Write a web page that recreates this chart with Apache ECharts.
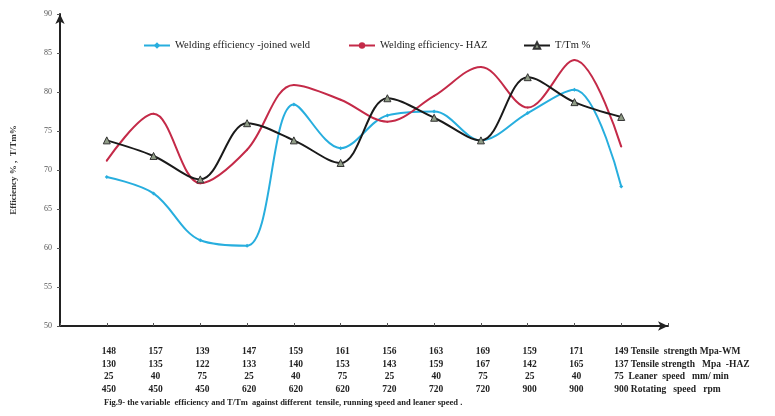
<!DOCTYPE html>
<html><head><meta charset="utf-8">
<script src="https://cdn.jsdelivr.net/npm/echarts@6/dist/echarts.min.js"></script>
<style>html,body{margin:0;padding:0;background:#fff}#c{width:775px;height:416px}</style>
</head><body><div id="c"></div>
<script>
// ---- data ----
const positions = [1, 2, 3, 4, 5, 6, 7, 8, 9, 10, 11, 12];
const effWeld = [69.1, 67.0, 61.0, 60.3, 78.4, 72.8, 77.0, 77.5, 73.8, 77.3, 80.3, 67.9];
const effHAZ  = [71.2, 77.2, 68.3, 72.6, 80.9, 79.0, 76.2, 79.5, 83.2, 78.0, 84.1, 73.0];
const tTm     = [73.8, 71.8, 68.8, 76.0, 73.8, 70.9, 79.2, 76.7, 73.8, 81.9, 78.7, 76.8];
const seriesNames = ['Welding efficiency -joined weld', 'Welding efficiency- HAZ', 'T/Tm %'];
const tensileWM  = [148, 157, 139, 147, 159, 161, 156, 163, 169, 159, 171, 149];
const tensileHAZ = [130, 135, 122, 133, 140, 153, 143, 159, 167, 142, 165, 137];
const linearSpeed = [25, 40, 75, 25, 40, 75, 25, 40, 75, 25, 40, 75];
const rotSpeed   = [450, 450, 450, 620, 620, 620, 720, 720, 720, 900, 900, 900];
const rowNames = ['Tensile  strength Mpa-WM', 'Tensile strength   Mpa  -HAZ', ' Leaner  speed   mm/ min', 'Rotating   speed   rpm'];
const yAxisName = 'Efficiency % ,  T/Tm%';
const caption = 'Fig.9- the variable  efficiency and T/Tm  against different  tensile, running speed and leaner speed .';

const pairs = (arr) => arr.map((v, i) => [positions[i], v]);
const serif = 'Liberation Serif, Times New Roman, serif';
const legendText = { fontFamily: serif, fontSize: 10.5, color: '#222' };

const chart = echarts.init(document.getElementById('c'));
chart.setOption({
  backgroundColor: '#fff',
  animation: false,
  grid: { left: 60, right: 107, top: 14, bottom: 90 },
  legend: [
    { left: 138, top: 35, itemWidth: 26, itemHeight: 8, textStyle: legendText, data: [seriesNames[0]] },
    { left: 343, top: 35, itemWidth: 26, itemHeight: 8, textStyle: legendText, data: [seriesNames[1]] },
    { left: 518, top: 35, itemWidth: 26, itemHeight: 8, textStyle: legendText, data: [seriesNames[2]] }
  ],
  xAxis: {
    type: 'value', min: 0, max: 13, interval: 1,
    axisLine: { lineStyle: { color: '#222', width: 2 }, symbol: ['none', 'arrow'], symbolSize: [7, 10] },
    axisTick: { show: true, length: 3, inside: true, lineStyle: { color: '#555' } },
    axisLabel: { show: false },
    splitLine: { show: false }
  },
  yAxis: {
    type: 'value', min: 50, max: 90, interval: 5,
    name: yAxisName, nameLocation: 'middle', nameGap: 42,
    nameTextStyle: { fontFamily: serif, fontSize: 9, fontWeight: 'bold', color: '#333' },
    axisLine: { show: true, lineStyle: { color: '#222', width: 2 }, symbol: ['none', 'arrow'], symbolSize: [7, 10] },
    axisTick: { show: true, length: 3, lineStyle: { color: '#555' } },
    axisLabel: { fontFamily: serif, fontSize: 8, color: '#555', margin: 8 },
    splitLine: { show: false }
  },
  series: [
    { name: seriesNames[0], type: 'line', smooth: 0.35, data: pairs(effWeld),
      lineStyle: { color: '#27aede', width: 2 }, itemStyle: { color: '#27aede' },
      symbol: 'diamond', symbolSize: 4 },
    { name: seriesNames[1], type: 'line', smooth: 0.35, data: pairs(effHAZ),
      lineStyle: { color: '#c42a48', width: 2 }, itemStyle: { color: '#c42a48' },
      symbol: 'circle', symbolSize: 2 },
    { name: seriesNames[2], type: 'line', smooth: 0.35, data: pairs(tTm),
      lineStyle: { color: '#1a1a1a', width: 2 }, itemStyle: { color: '#8f9c86', borderColor: '#333', borderWidth: 1 },
      symbol: 'triangle', symbolSize: 7 }
  ]
});

// table under the axis, placed at the axis' column positions
const rows = [tensileWM, tensileHAZ, linearSpeed, rotSpeed];
const rowY = [352, 365, 377, 390];
const font = 'bold 9.5px ' + serif;
const g = [];
rows.forEach((row, r) => {
  row.forEach((v, i) => {
    const x = chart.convertToPixel({ xAxisIndex: 0 }, positions[i]);
    if (i < row.length - 1) {
      g.push({ type: 'text', x: x + 2, y: rowY[r], style: { text: String(v), textAlign: 'center', textVerticalAlign: 'middle', font: font, fill: '#222' } });
    } else {
      g.push({ type: 'text', x: x - 7, y: rowY[r], style: { text: v + ' ' + rowNames[r], textAlign: 'left', textVerticalAlign: 'middle', font: font, fill: '#222' } });
    }
  });
});
g.push({ type: 'text', x: 104, y: 403, style: { text: caption, textAlign: 'left', textVerticalAlign: 'middle', font: 'bold 8.5px ' + serif, fill: '#222' } });
chart.setOption({ graphic: g });
</script>
</body></html>
